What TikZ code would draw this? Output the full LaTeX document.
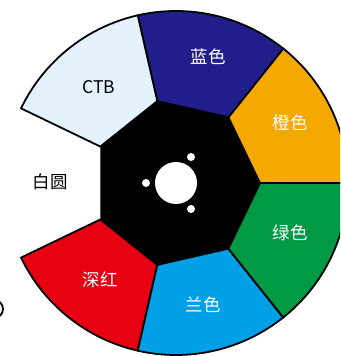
\documentclass[tikz,border=0pt]{standalone}
\usepackage{fontspec}
\setmainfont{Noto Sans CJK SC}

\definecolor{navyseg}{HTML}{201E8A}
\definecolor{orangeseg}{HTML}{F5A800}
\definecolor{greenseg}{HTML}{009A44}
\definecolor{skyseg}{HTML}{00A0E6}
\definecolor{redseg}{HTML}{E60012}
\definecolor{ctbseg}{HTML}{E3F2FC}

\tikzset{
  seg/.style={draw=black,line width=1.8pt,line join=round},
  lbl/.style={font=\fontsize{17.5}{17.5}\selectfont,text=white},
}

\begin{document}
\begin{tikzpicture}[x=1pt,y=1pt]

        \useasboundingbox (0,0) rectangle (340,356);
        \clip (0,0) rectangle (340,356);

        % Cut-off ring at left edge
        \draw[line width=1.8pt] (-6,47) circle (9);

        \begin{scope}[shift={(176,173)}]
        % Colour segments: hub corner out to rim
        \filldraw[seg,fill=orangeseg] (0:84) -- (0:172) arc[start angle=0,end angle=51.43,radius=172] -- (51.43:84) -- cycle;
        \filldraw[seg,fill=navyseg] (51.43:84) -- (51.43:172) arc[start angle=51.43,end angle=102.86,radius=172] -- (102.86:84) -- cycle;
        \filldraw[seg,fill=ctbseg] (102.86:84) -- (102.86:172) arc[start angle=102.86,end angle=154.29,radius=172] -- (154.29:84) -- cycle;
        \filldraw[seg,fill=redseg] (205.71:84) -- (205.71:172) arc[start angle=205.71,end angle=257.14,radius=172] -- (257.14:84) -- cycle;
        \filldraw[seg,fill=skyseg] (257.14:84) -- (257.14:172) arc[start angle=257.14,end angle=308.57,radius=172] -- (308.57:84) -- cycle;
        \filldraw[seg,fill=greenseg] (308.57:84) -- (308.57:172) arc[start angle=308.57,end angle=360,radius=172] -- (0:84) -- cycle;

        % Hub: black heptagon with holes
        \fill[black] (0:84) -- (51.43:84) -- (102.86:84) -- (154.29:84) -- (205.71:84) -- (257.14:84) -- (308.57:84) -- cycle;
        \fill[white] (0,0) circle (21);
        \fill[white] (60:30) circle (4);
        \fill[white] (180:30) circle (4);
        \fill[white] (-60:30) circle (4);
        \end{scope}

        % Segment names
        \node[lbl] (navy) at (208,299) {蓝色};
        \node[lbl] (orange) at (290,233) {橙色};
        \node[lbl] (green) at (290,123) {绿色};
        \node[lbl] (sky) at (203,51) {兰色};
        \node[lbl] (red) at (100,76) {深红};
        \node[lbl,text=black] (white) at (50,174) {白圆};
        \node[lbl,text=black] (ctb) at (99,269) {CTB};
    \end{tikzpicture}
\end{document}
